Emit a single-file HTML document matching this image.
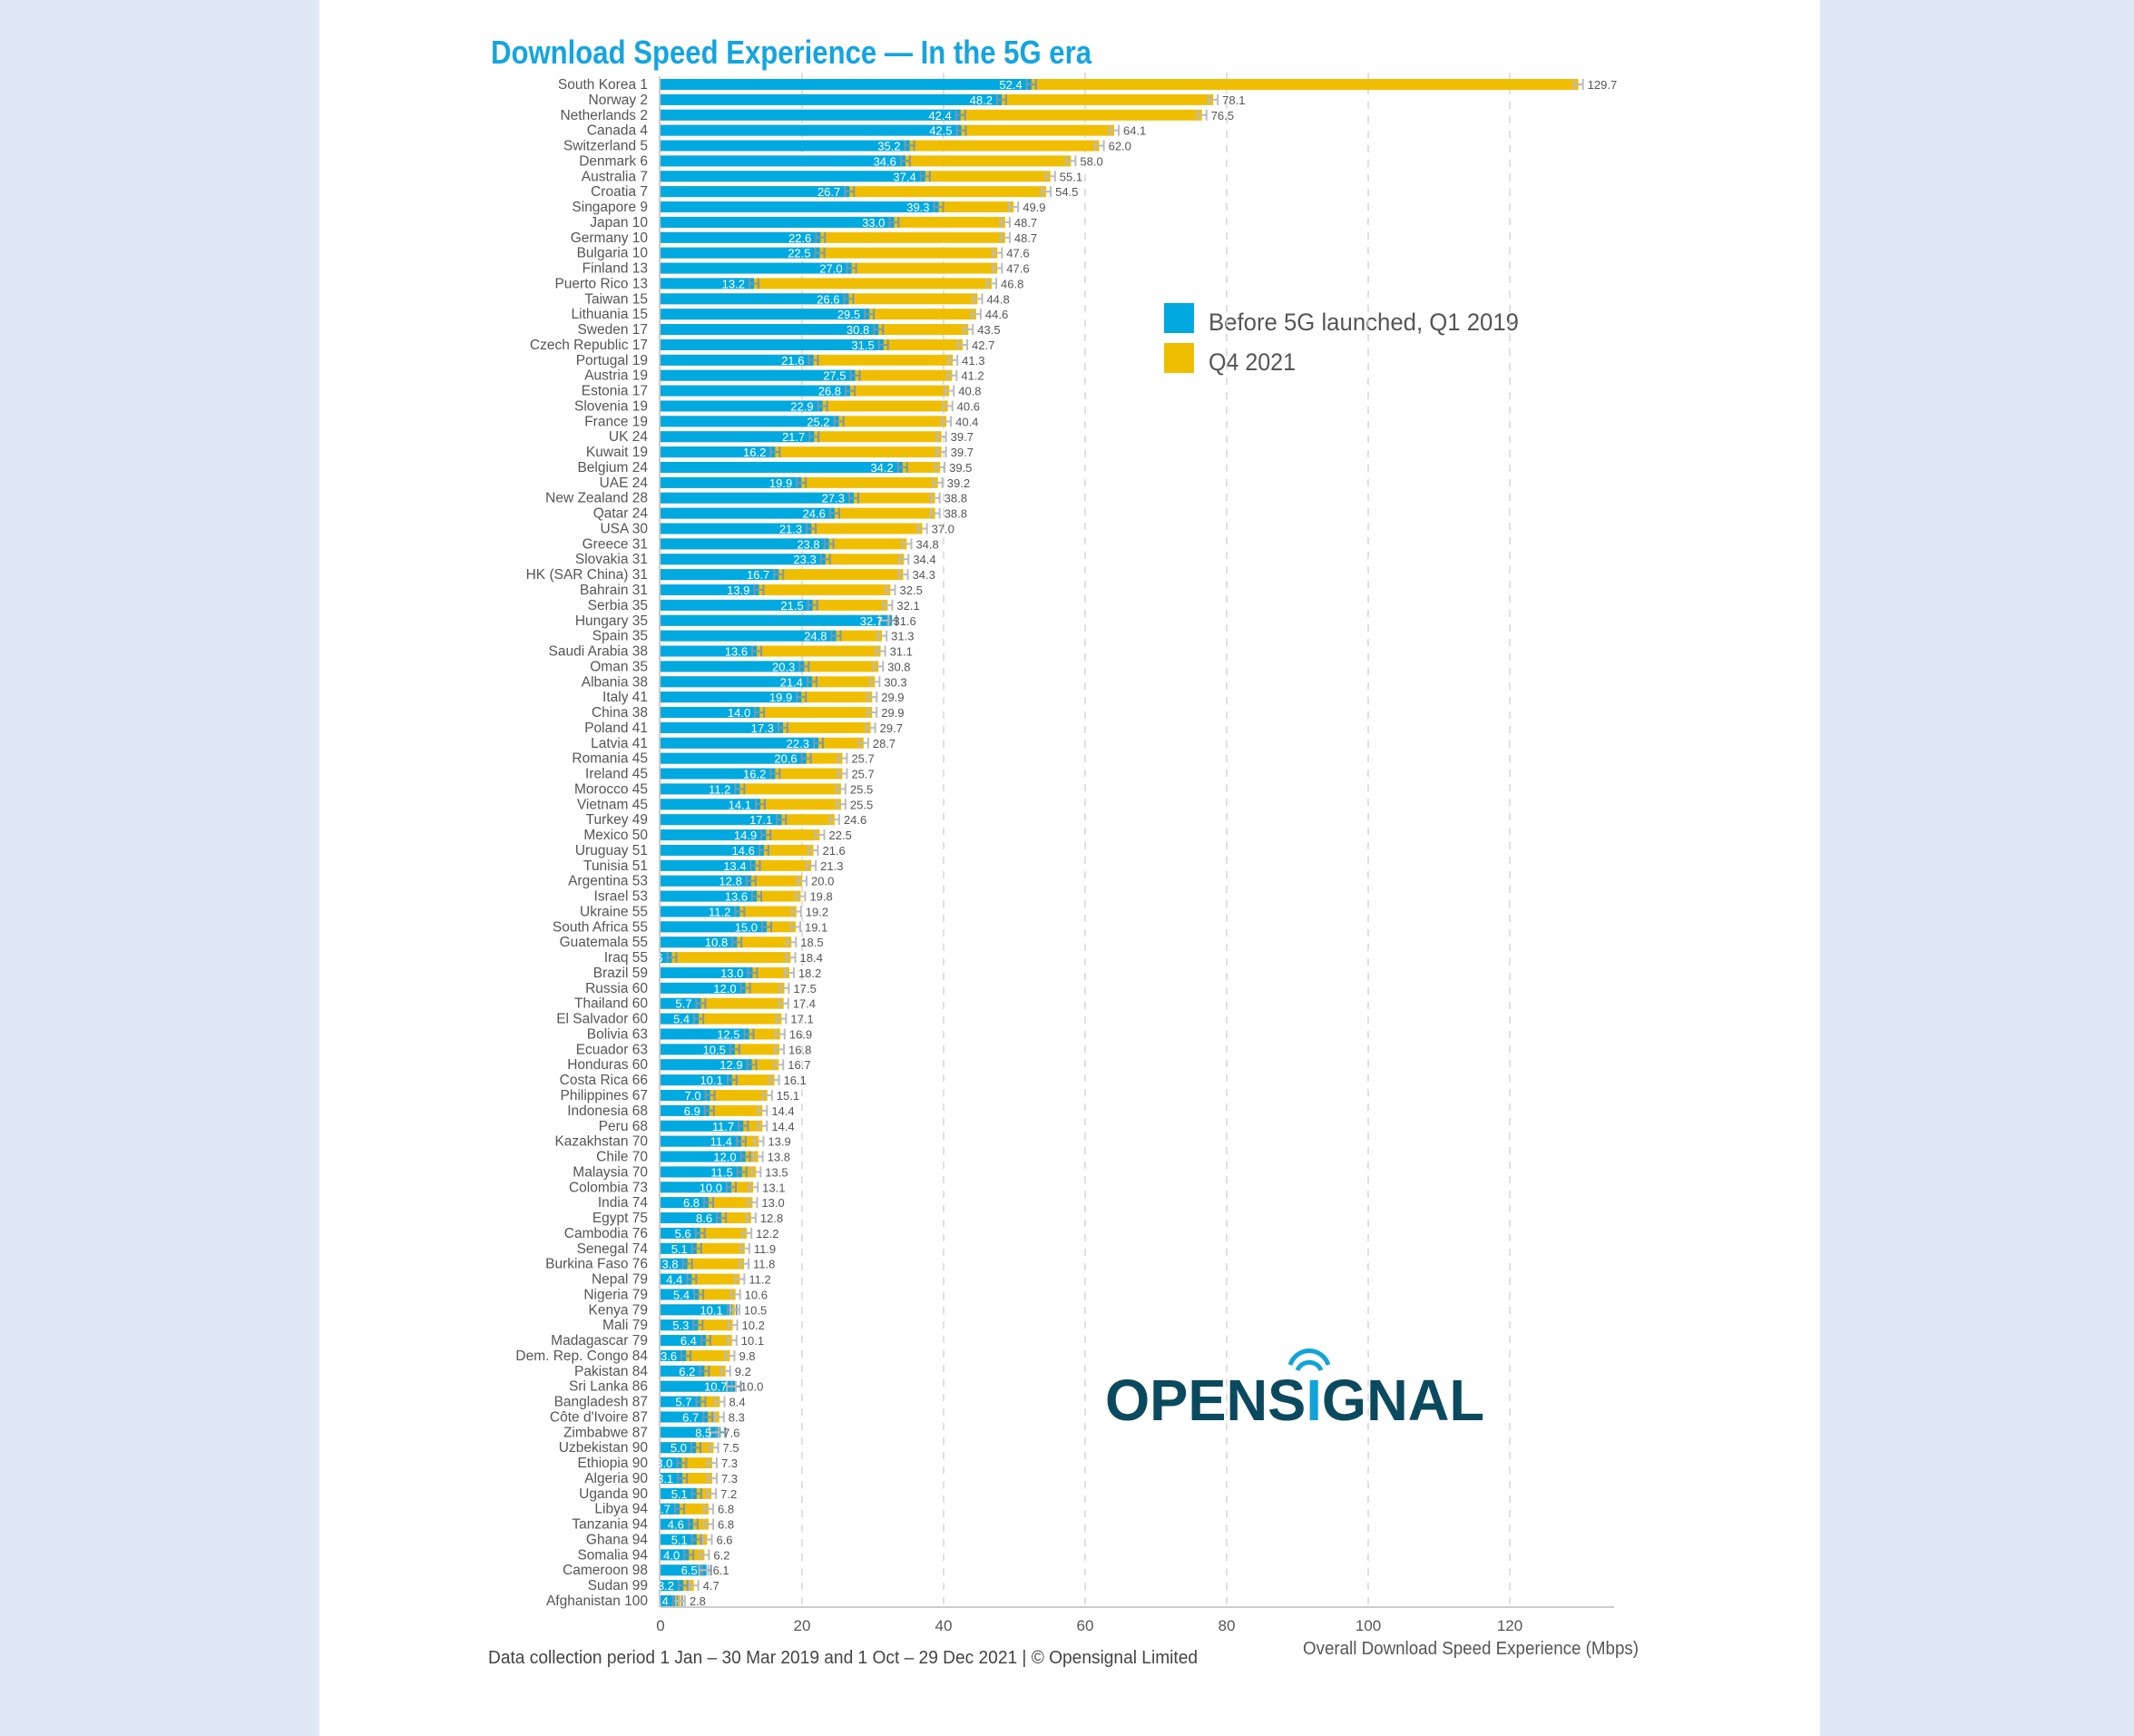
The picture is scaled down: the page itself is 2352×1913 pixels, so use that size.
<!DOCTYPE html>
<html><head><meta charset="utf-8">
<style>
html,body{margin:0;padding:0;}
body{width:2352px;height:1913px;background:#dfe9f5;position:relative;overflow:hidden;font-family:"Liberation Sans",sans-serif;}
#panel{position:absolute;left:352px;top:0;width:1654px;height:1913px;background:#fff;}
svg{position:absolute;left:0;top:0;}
</style></head>
<body>
<div id="panel"></div>
<svg id="chart" width="2352" height="1913">
<text x="541" y="70" font-size="36" font-weight="bold" fill="#14a5df" textLength="662" lengthAdjust="spacingAndGlyphs">Download Speed Experience — In the 5G era</text>
<rect x="1283" y="334" width="33" height="33" fill="#00a9e0"/>
<text x="1332" y="364" font-size="27" fill="#555" textLength="342" lengthAdjust="spacingAndGlyphs">Before 5G launched, Q1 2019</text>
<rect x="1283" y="378" width="33" height="33" fill="#f0be00"/>
<text x="1332" y="408" font-size="27" fill="#555" textLength="96" lengthAdjust="spacingAndGlyphs">Q4 2021</text>
<g>
<text x="1218" y="1565" font-size="64" font-weight="bold" fill="#0b4a5e" textLength="418" lengthAdjust="spacingAndGlyphs">OPENS<tspan fill="#12a3d8">I</tspan>GNAL</text>
<path d="M1430 1510 a14 14 0 0 1 26 0" fill="none" stroke="#12a3d8" stroke-width="5"/>
<path d="M1422 1504 a22 22 0 0 1 42 0" fill="none" stroke="#12a3d8" stroke-width="5"/>
</g>
<text x="538" y="1833" font-size="20" fill="#444" textLength="782" lengthAdjust="spacingAndGlyphs">Data collection period 1 Jan – 30 Mar 2019 and 1 Oct – 29 Dec 2021 | © Opensignal Limited</text>
<text x="1436" y="1823" font-size="20" fill="#555" textLength="370" lengthAdjust="spacingAndGlyphs">Overall Download Speed Experience (Mbps)</text>
</svg>
<script>
const countries=["South Korea 1","Norway 2","Netherlands 2","Canada 4","Switzerland 5","Denmark 6","Australia 7","Croatia 7","Singapore 9","Japan 10","Germany 10","Bulgaria 10","Finland 13","Puerto Rico 13","Taiwan 15","Lithuania 15","Sweden 17","Czech Republic 17","Portugal 19","Austria 19","Estonia 17","Slovenia 19","France 19","UK 24","Kuwait 19","Belgium 24","UAE 24","New Zealand 28","Qatar 24","USA 30","Greece 31","Slovakia 31","HK (SAR China) 31","Bahrain 31","Serbia 35","Hungary 35","Spain 35","Saudi Arabia 38","Oman 35","Albania 38","Italy 41","China 38","Poland 41","Latvia 41","Romania 45","Ireland 45","Morocco 45","Vietnam 45","Turkey 49","Mexico 50","Uruguay 51","Tunisia 51","Argentina 53","Israel 53","Ukraine 55","South Africa 55","Guatemala 55","Iraq 55","Brazil 59","Russia 60","Thailand 60","El Salvador 60","Bolivia 63","Ecuador 63","Honduras 60","Costa Rica 66","Philippines 67","Indonesia 68","Peru 68","Kazakhstan 70","Chile 70","Malaysia 70","Colombia 73","India 74","Egypt 75","Cambodia 76","Senegal 74","Burkina Faso 76","Nepal 79","Nigeria 79","Kenya 79","Mali 79","Madagascar 79","Dem. Rep. Congo 84","Pakistan 84","Sri Lanka 86","Bangladesh 87","Côte d'Ivoire 87","Zimbabwe 87","Uzbekistan 90","Ethiopia 90","Algeria 90","Uganda 90","Libya 94","Tanzania 94","Ghana 94","Somalia 94","Cameroon 98","Sudan 99","Afghanistan 100"];
const q1_2019=[52.4,48.2,42.4,42.5,35.2,34.6,37.4,26.7,39.3,33.0,22.6,22.5,27.0,13.2,26.6,29.5,30.8,31.5,21.6,27.5,26.8,22.9,25.2,21.7,16.2,34.2,19.9,27.3,24.6,21.3,23.8,23.3,16.7,13.9,21.5,32.7,24.8,13.6,20.3,21.4,19.9,14.0,17.3,22.3,20.6,16.2,11.2,14.1,17.1,14.9,14.6,13.4,12.8,13.6,11.2,15.0,10.8,1.6,13.0,12.0,5.7,5.4,12.5,10.5,12.9,10.1,7.0,6.9,11.7,11.4,12.0,11.5,10.0,6.8,8.6,5.6,5.1,3.8,4.4,5.4,10.1,5.3,6.4,3.6,6.2,10.7,5.7,6.7,8.5,5.0,3.0,3.1,5.1,2.7,4.6,5.1,4.0,6.5,3.2,2.4];
const q4_2021=[129.7,78.1,76.5,64.1,62.0,58.0,55.1,54.5,49.9,48.7,48.7,47.6,47.6,46.8,44.8,44.6,43.5,42.7,41.3,41.2,40.8,40.6,40.4,39.7,39.7,39.5,39.2,38.8,38.8,37.0,34.8,34.4,34.3,32.5,32.1,31.6,31.3,31.1,30.8,30.3,29.9,29.9,29.7,28.7,25.7,25.7,25.5,25.5,24.6,22.5,21.6,21.3,20.0,19.8,19.2,19.1,18.5,18.4,18.2,17.5,17.4,17.1,16.9,16.8,16.7,16.1,15.1,14.4,14.4,13.9,13.8,13.5,13.1,13.0,12.8,12.2,11.9,11.8,11.2,10.6,10.5,10.2,10.1,9.8,9.2,10.0,8.4,8.3,7.6,7.5,7.3,7.3,7.2,6.8,6.8,6.6,6.2,6.1,4.7,2.8];
const xTicks=[0,20,40,60,80,100,120];

const NS="http://www.w3.org/2000/svg";
const svg=document.getElementById('chart');
const X0=728, PX=7.8, Y0=93, STEP=(1764-93)/(countries.length-1), BH=12;
const xs=v=>X0+v*PX;
const ys=i=>Y0+i*STEP;
function mk(tag,attrs,parent){const e=document.createElementNS(NS,tag);for(const k in attrs)e.setAttribute(k,attrs[k]);(parent||svg).appendChild(e);return e;}

const grid=mk('g',{});


xTicks.forEach(t=>{
  if(t>0){const l=mk('line',{x1:xs(t),x2:xs(t),y1:80,y2:1771,stroke:'#d6d6d6','stroke-width':1.5,'stroke-dasharray':'8 8'},grid);
  
  }
  const tx=mk('text',{x:xs(t),y:1797,'font-size':17,fill:'#555','text-anchor':'middle'});
  tx.textContent=t;
  
  
});
const ax=mk('line',{x1:X0,x2:1779,y1:1771,y2:1771,stroke:'#ccc','stroke-width':2});


const ay=mk('line',{x1:X0-1,x2:X0-1,y1:84,y2:1771,stroke:'#ccc','stroke-width':2});



countries.forEach((c,i)=>{
  const y=ys(i), a=q1_2019[i], b=q4_2021[i];
  const g=mk('g',{});
  
  
  const lab=mk('text',{x:714,y:y+5,'font-size':15.5,fill:'#555','text-anchor':'end'},g);
  lab.textContent=c;
  
  
  const yb=mk('rect',{x:X0,y:y-BH/2,width:b*PX,height:BH,fill:'#f0be00'},g);
  
  
  const bb=mk('rect',{x:X0,y:y-BH/2,width:a*PX,height:BH,fill:'#00a9e0'},g);
  
  
  [[a,'#7d98aa'],[b,'#bbb']].forEach(([v,col])=>{
    const w=mk('path',{d:`M${xs(v)-5} ${y-6}V${y+6}M${xs(v)+5} ${y-6}V${y+6}M${xs(v)-5} ${y}H${xs(v)+5}`,stroke:col,'stroke-width':2,fill:'none'},g);
    
    
  });
  const va=mk('text',{x:xs(a)-10,y:y+5,'font-size':13,fill:'#fff','text-anchor':'end'},g);
  va.textContent=a.toFixed(1);
  
  
  const vb=mk('text',{x:xs(b)+10,y:y+5,'font-size':13,fill:'#555'},g);
  vb.textContent=b.toFixed(1);
  
  
});
</script>
</body></html>
